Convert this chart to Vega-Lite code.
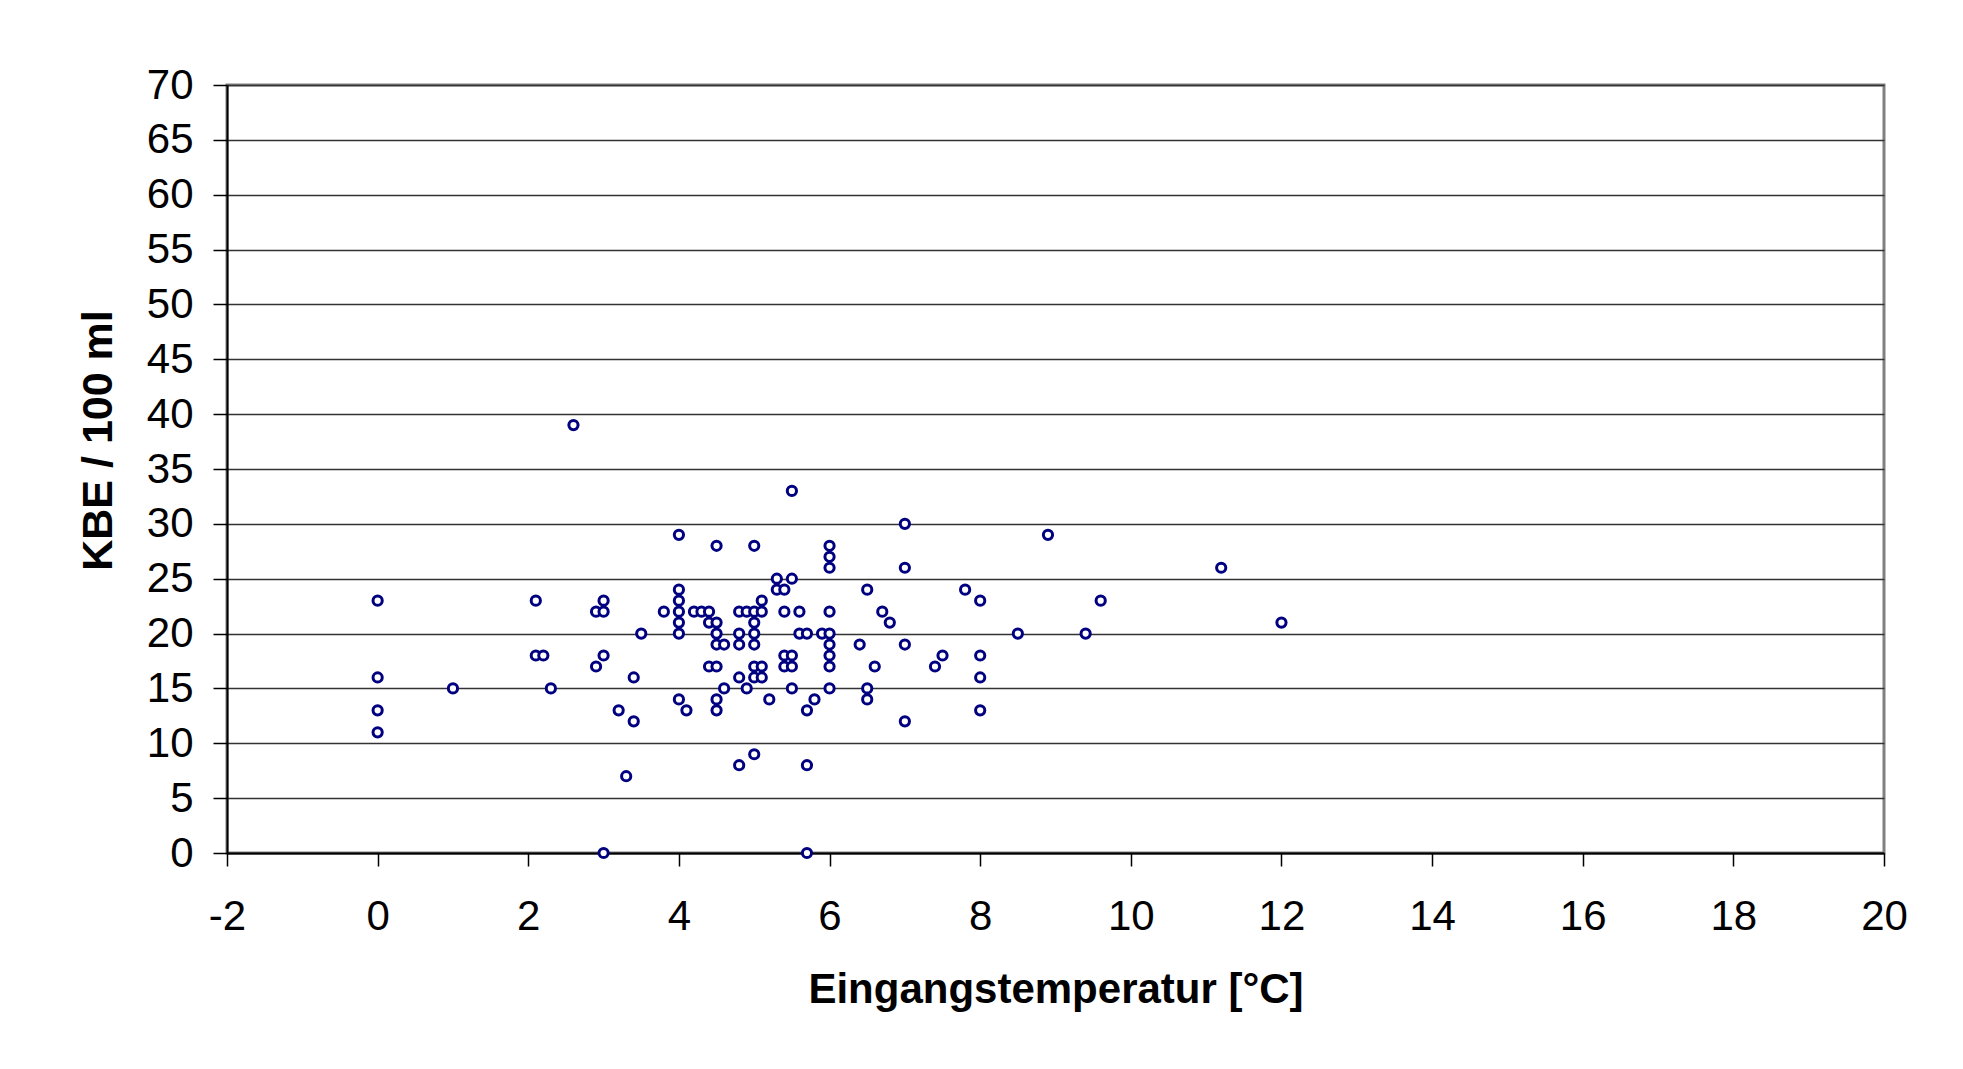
{
  "$schema": "https://vega.github.io/schema/vega-lite/v6.json",
  "width": 1657,
  "height": 768,
  "autosize": {"type": "none"},
  "padding": {"left": 227, "top": 85, "right": 79, "bottom": 216},
  "background": "#ffffff",
  "config": {
    "font": "Liberation Sans",
    "view": {"stroke": "#808080", "strokeWidth": 3, "fill": "#ffffff"},
    "axis": {
      "labelFont": "Liberation Sans",
      "titleFont": "Liberation Sans",
      "labelColor": "#000000",
      "titleColor": "#000000",
      "domainColor": "#000000",
      "domainWidth": 2,
      "tickColor": "#000000",
      "tickWidth": 1.5,
      "labelFontSize": 42,
      "titleFontSize": 42,
      "titleFontWeight": "bold"
    }
  },
  "data": {
    "values": [
      {"t": 0, "kbe": 23}, {"t": 0, "kbe": 16}, {"t": 0, "kbe": 13}, {"t": 0, "kbe": 11},
      {"t": 1, "kbe": 15},
      {"t": 2.1, "kbe": 23}, {"t": 2.1, "kbe": 18},
      {"t": 2.2, "kbe": 18},
      {"t": 2.3, "kbe": 15},
      {"t": 2.6, "kbe": 39},
      {"t": 2.9, "kbe": 22}, {"t": 2.9, "kbe": 17},
      {"t": 3.0, "kbe": 23}, {"t": 3.0, "kbe": 22}, {"t": 3.0, "kbe": 18}, {"t": 3.0, "kbe": 0},
      {"t": 3.2, "kbe": 13},
      {"t": 3.3, "kbe": 7},
      {"t": 3.4, "kbe": 16}, {"t": 3.4, "kbe": 12},
      {"t": 3.5, "kbe": 20},
      {"t": 3.8, "kbe": 22},
      {"t": 4.0, "kbe": 29}, {"t": 4.0, "kbe": 24}, {"t": 4.0, "kbe": 23}, {"t": 4.0, "kbe": 22}, {"t": 4.0, "kbe": 21}, {"t": 4.0, "kbe": 20}, {"t": 4.0, "kbe": 14},
      {"t": 4.1, "kbe": 13},
      {"t": 4.2, "kbe": 22},
      {"t": 4.3, "kbe": 22},
      {"t": 4.4, "kbe": 22}, {"t": 4.4, "kbe": 21}, {"t": 4.4, "kbe": 17},
      {"t": 4.5, "kbe": 28}, {"t": 4.5, "kbe": 21}, {"t": 4.5, "kbe": 20}, {"t": 4.5, "kbe": 19}, {"t": 4.5, "kbe": 17}, {"t": 4.5, "kbe": 14}, {"t": 4.5, "kbe": 13},
      {"t": 4.6, "kbe": 19}, {"t": 4.6, "kbe": 15},
      {"t": 4.8, "kbe": 22}, {"t": 4.8, "kbe": 20}, {"t": 4.8, "kbe": 19}, {"t": 4.8, "kbe": 16}, {"t": 4.8, "kbe": 8},
      {"t": 4.9, "kbe": 22}, {"t": 4.9, "kbe": 15},
      {"t": 5.0, "kbe": 28}, {"t": 5.0, "kbe": 22}, {"t": 5.0, "kbe": 21}, {"t": 5.0, "kbe": 20}, {"t": 5.0, "kbe": 19}, {"t": 5.0, "kbe": 17}, {"t": 5.0, "kbe": 16}, {"t": 5.0, "kbe": 9},
      {"t": 5.1, "kbe": 23}, {"t": 5.1, "kbe": 22}, {"t": 5.1, "kbe": 17}, {"t": 5.1, "kbe": 16},
      {"t": 5.2, "kbe": 14},
      {"t": 5.3, "kbe": 25}, {"t": 5.3, "kbe": 24},
      {"t": 5.4, "kbe": 24}, {"t": 5.4, "kbe": 22}, {"t": 5.4, "kbe": 18}, {"t": 5.4, "kbe": 17},
      {"t": 5.5, "kbe": 33}, {"t": 5.5, "kbe": 25}, {"t": 5.5, "kbe": 18}, {"t": 5.5, "kbe": 17}, {"t": 5.5, "kbe": 15},
      {"t": 5.6, "kbe": 22}, {"t": 5.6, "kbe": 20},
      {"t": 5.7, "kbe": 20}, {"t": 5.7, "kbe": 13}, {"t": 5.7, "kbe": 8}, {"t": 5.7, "kbe": 0},
      {"t": 5.8, "kbe": 14},
      {"t": 5.9, "kbe": 20},
      {"t": 6.0, "kbe": 28}, {"t": 6.0, "kbe": 27}, {"t": 6.0, "kbe": 26}, {"t": 6.0, "kbe": 22}, {"t": 6.0, "kbe": 20}, {"t": 6.0, "kbe": 19}, {"t": 6.0, "kbe": 18}, {"t": 6.0, "kbe": 17}, {"t": 6.0, "kbe": 15},
      {"t": 6.4, "kbe": 19},
      {"t": 6.5, "kbe": 24}, {"t": 6.5, "kbe": 15}, {"t": 6.5, "kbe": 14},
      {"t": 6.6, "kbe": 17},
      {"t": 6.7, "kbe": 22},
      {"t": 6.8, "kbe": 21},
      {"t": 7.0, "kbe": 30}, {"t": 7.0, "kbe": 26}, {"t": 7.0, "kbe": 19}, {"t": 7.0, "kbe": 12},
      {"t": 7.4, "kbe": 17},
      {"t": 7.5, "kbe": 18},
      {"t": 7.8, "kbe": 24},
      {"t": 8.0, "kbe": 23}, {"t": 8.0, "kbe": 18}, {"t": 8.0, "kbe": 16}, {"t": 8.0, "kbe": 13},
      {"t": 8.5, "kbe": 20},
      {"t": 8.9, "kbe": 29},
      {"t": 9.4, "kbe": 20},
      {"t": 9.6, "kbe": 23},
      {"t": 11.2, "kbe": 26},
      {"t": 12.0, "kbe": 21}
    ]
  },
  "mark": {
    "type": "point",
    "shape": "circle",
    "filled": false,
    "fill": "#ffffff",
    "fillOpacity": 1,
    "stroke": "#000080",
    "strokeWidth": 3,
    "opacity": 1,
    "size": 85
  },
  "encoding": {
    "x": {
      "field": "t",
      "type": "quantitative",
      "scale": {"domain": [-2, 20], "nice": false, "zero": false},
      "axis": {
        "title": "Eingangstemperatur [°C]",
        "values": [-2, 0, 2, 4, 6, 8, 10, 12, 14, 16, 18, 20],
        "labelExpr": "toString(datum.value)",
        "grid": false,
        "tickSize": 13,
        "labelPadding": 30,
        "titlePadding": 32,
        "labelFlush": false,
        "labelOverlap": false
      }
    },
    "y": {
      "field": "kbe",
      "type": "quantitative",
      "scale": {"domain": [0, 70], "nice": false},
      "axis": {
        "title": "KBE / 100 ml",
        "titleFontSize": 43,
        "titleY": 355,
        "values": [0, 5, 10, 15, 20, 25, 30, 35, 40, 45, 50, 55, 60, 65, 70],
        "grid": true,
        "gridColor": "#333333",
        "gridWidth": 1.5,
        "gridOpacity": 1,
        "tickSize": 14,
        "labelPadding": 20,
        "titlePadding": 26,
        "labelFlush": false,
        "labelOverlap": false
      }
    }
  }
}
